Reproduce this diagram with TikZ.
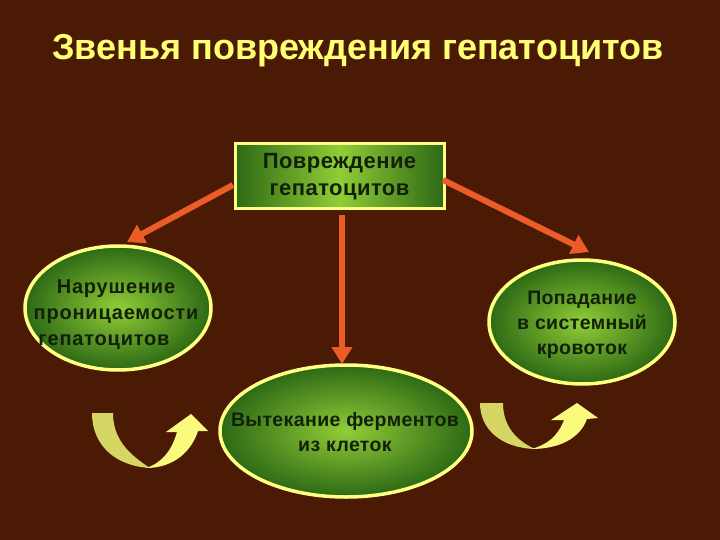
\documentclass[tikz,border=0pt]{standalone}
\usepackage{fontspec}
\setmainfont{Liberation Sans}
\newfontfamily\spacedA[LetterSpace=2]{Liberation Sans}
\newfontfamily\spacedB[LetterSpace=4]{Liberation Sans}
\usetikzlibrary{arrows.meta,shapes.geometric,shadings}
\definecolor{bg}{RGB}{74,26,4}
\definecolor{titlecol}{RGB}{255,255,115}
\definecolor{rim}{RGB}{255,255,130}
\definecolor{arrowcol}{RGB}{236,92,38}
\definecolor{txt}{RGB}{18,32,8}
\definecolor{glight}{RGB}{145,205,55}
\definecolor{gdark}{RGB}{45,105,20}
\definecolor{khaki}{RGB}{214,214,100}
\definecolor{pale}{RGB}{250,250,125}
\tikzset{
  oval/.style={ellipse, draw=rim, line width=3.5pt, inner color=glight, outer color=gdark, inner sep=0pt},
  ovaltext/.style={font=\spacedA\bfseries\fontsize{19.5}{25}\selectfont, text=txt, align=center},
  topbox/.style={rectangle, draw=rim, line width=3pt, left color=gdark, right color=gdark, middle color=glight, font=\spacedA\bfseries\fontsize{22}{27}\selectfont, text=txt, align=center},
  link/.style={draw=arrowcol, line width=6pt, -{Triangle[length=17pt,width=20pt]}},
  armA/.style={fill=khaki},
  armB/.style={fill=pale}
}
\begin{document}
\begin{tikzpicture}[x=1pt,y=-1pt]
\fill[bg] (0,0) rectangle (720,540);
\useasboundingbox (0,0) rectangle (720,540);
\node[text=titlecol, font=\bfseries\fontsize{36}{40}\selectfont] (title) at (358,51) {Звенья повреждения гепатоцитов};
\node[topbox, minimum width=209pt, minimum height=65pt] (top) at (339.5,176.5) {Повреждение\\гепатоцитов};
\node[oval, minimum width=186pt, minimum height=124pt] (left) at (118,308) {};
\node[ovaltext, font=\spacedB\bfseries\fontsize{20}{26}\selectfont] (lefttext) at (116,315) {Нарушение\\проницаемости\\\hspace*{-24pt}гепатоцитов};
\node[oval, minimum width=186pt, minimum height=124pt] (right) at (582,322) {};
\node[ovaltext] (righttext) at (582,325) {Попадание\\в системный\\кровоток};
\node[oval, minimum width=252pt, minimum height=132pt] (bottom) at (346,431) {};
\node[ovaltext] (bottomtext) at (345,432) {Вытекание ферментов\\из клеток};
\coordinate (s1) at (233,185);
\coordinate (t1) at (127,242);
\coordinate (s2) at (342,215);
\coordinate (t2) at (342,364);
\coordinate (s3) at (443,180);
\coordinate (t3) at (589,252);
\draw[link] (s1) -- (t1);
\draw[link] (s2) -- (t2);
\draw[link] (s3) -- (t3);
% left curved arrow
\path[armA] (92,413) .. controls (92,445) and (115,466) .. (150,468)
  .. controls (130,455) and (113,440) .. (113,413) -- cycle;
\path[armB] (146,468) .. controls (175,468) and (192,450) .. (198,431)
  -- (208,431) -- (191,414) -- (166,432) -- (177,432)
  .. controls (172,450) and (162,463) .. (146,468) -- cycle;
% right curved arrow
\path[armA] (480,403) .. controls (480,430) and (502,448) .. (535,449)
  .. controls (515,440) and (503,425) .. (503,403) -- cycle;
\path[armB] (531,449) .. controls (560,449) and (580,438) .. (587,419)
  -- (598,418) -- (577,403) -- (551,420) -- (564,420)
  .. controls (558,436) and (547,445) .. (531,449) -- cycle;
\end{tikzpicture}
\end{document}
